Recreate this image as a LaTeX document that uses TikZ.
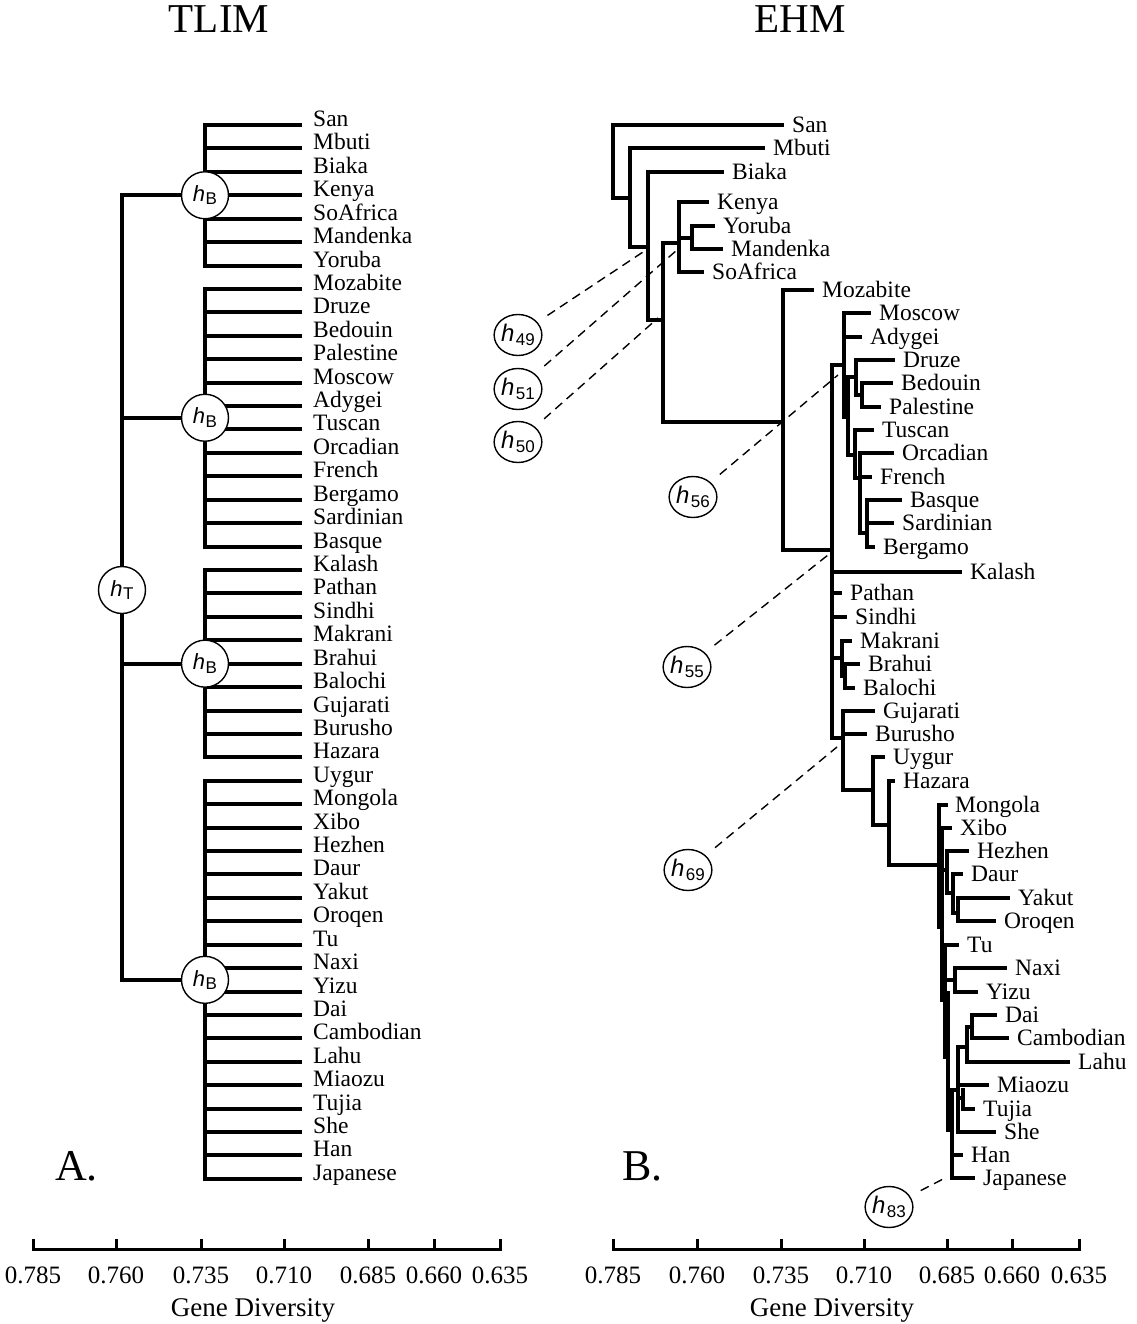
\documentclass[tikz,border=0pt]{standalone}
\usepackage{fontspec}
\usetikzlibrary{shapes.geometric}
\setmainfont{Liberation Serif}
\setsansfont{Liberation Sans}
\pgfdeclarelayer{lines}
\pgfsetlayers{lines,main}
% h-symbols inside the circles
\newcommand\hA[1]{{\fontsize{22}{22}\selectfont\sffamily\itshape h}\kern0.5pt\raisebox{-3.5pt}{\fontsize{17}{17}\selectfont\sffamily #1}}
\newcommand\hN[1]{{\fontsize{24}{24}\selectfont\sffamily\itshape h}\kern1.5pt\raisebox{-4.5pt}{\fontsize{17}{17}\selectfont\sffamily #1}}
\begin{document}
\begin{tikzpicture}[x=1pt,y=-1pt,
  tree/.style={line width=3.6pt,line cap=rect,line join=miter},
  treeA/.style={line width=4pt,line cap=rect,line join=miter},
  axisline/.style={line width=3pt,line cap=rect},
  alab/.style={font=\fontsize{23.5}{24}\selectfont,inner sep=0pt,anchor=base west},
  blab/.style={font=\fontsize{23.5}{24}\selectfont,inner sep=0pt,anchor=base west},
  hcirc/.style={circle,draw,line width=1.4pt,fill=white,minimum size=47pt,inner sep=0pt},
  ncirc/.style={ellipse,draw,line width=1.4pt,fill=white,minimum width=45pt,minimum height=41pt,inner sep=0pt},
  conn/.style={line width=1.4pt,dash pattern=on 9pt off 6pt,shorten <=12pt},
  title/.style={font=\fontsize{41}{41}\selectfont,inner sep=0pt,anchor=base},
  panel/.style={font=\fontsize{44}{44}\selectfont,inner sep=0pt,anchor=base west},
  ticklab/.style={font=\fontsize{25}{25}\selectfont,inner sep=0pt,anchor=base},
  axlab/.style={font=\fontsize{27}{27}\selectfont,inner sep=0pt,anchor=base}]
\useasboundingbox (0,0) rectangle (1136,1324);

% ---------------- titles and panel letters ----------------
\node[title] (tlim) at (219,33) {TLIM};
\node[title] (ehm) at (800,33) {EHM};
\node[panel] (pA) at (55,1180) {A.};
\node[panel] (pB) at (622,1180) {B.};

% ---------------- panel A: TLIM ----------------
\node[hcirc] (hT) at (122,590) {\hA{T}};
\node[hcirc] (hb1) at (205,{125+23.42*3}) {\hA{B}};
\node[hcirc] (hb2) at (205,{125+23.42*12.5}) {\hA{B}};
\node[hcirc] (hb3) at (205,{125+23.42*23}) {\hA{B}};
\node[hcirc] (hb4) at (205,{125+23.42*36.5}) {\hA{B}};

\begin{pgfonlayer}{lines}
  \foreach \k in {1,...,4} \draw[treeA] (hT.center) |- (hb\k.center);
  \foreach \ra/\rb in {0/6,7/18,19/27,28/45}
    \draw[treeA] (205,{125+23.42*\ra}) -- (205,{125+23.42*\rb});
  \foreach \lbl [count=\i from 0] in {San,Mbuti,Biaka,Kenya,SoAfrica,Mandenka,Yoruba,
      Mozabite,Druze,Bedouin,Palestine,Moscow,Adygei,Tuscan,Orcadian,French,Bergamo,Sardinian,Basque,
      Kalash,Pathan,Sindhi,Makrani,Brahui,Balochi,Gujarati,Burusho,Hazara,
      Uygur,Mongola,Xibo,Hezhen,Daur,Yakut,Oroqen,Tu,Naxi,Yizu,Dai,Cambodian,Lahu,Miaozu,Tujia,She,Han,Japanese}
  {
    \pgfmathsetmacro\yy{125+23.42*\i}
    \draw[treeA] (205,\yy) -- (300,\yy);
    \node[alab] (a\i) at (313,\yy+1.5) {\lbl};
  }
\end{pgfonlayer}

% ---------------- panel B: EHM ----------------
% African branches
\draw[tree] (782,125) -- (613,125) -- (613,198) -- (630,198);
\draw[tree] (763,148) -- (630,148) -- (630,247) -- (648,247);
\draw[tree] (722,172) -- (648,172) -- (648,320) -- (663,320);
\draw[tree] (679,243) -- (663,243) -- (663,422) -- (783,422);
\draw[tree] (707,202) -- (679,202) -- (679,272) -- (702,272);
\draw[tree] (679,238) -- (692,238);
\draw[tree] (713,226) -- (692,226) -- (692,249) -- (721,249);
% Eurasian backbone
\draw[tree] (812,290) -- (783,290) -- (783,550) -- (832,550);
\draw[tree] (844,365) -- (832,365) -- (832,738) -- (843,738);
\draw[tree] (832,572) -- (960,572);
\draw[tree] (832,593) -- (840,593);
\draw[tree] (832,617) -- (845,617);
\draw[tree] (832,658) -- (842,658);
% Europe and Middle East
\draw[tree] (869,313) -- (844,313) -- (844,417);
\draw[tree] (844,337) -- (860,337);
\draw[tree] (844,405) -- (848,405);
\draw[tree] (856,377) -- (848,377) -- (848,455) -- (855,455);
\draw[tree] (893,360) -- (856,360) -- (856,395) -- (862,395);
\draw[tree] (891,383) -- (862,383) -- (862,407) -- (879,407);
\draw[tree] (872,430) -- (855,430) -- (855,478) -- (860,478);
\draw[tree] (892,453) -- (860,453) -- (860,533) -- (867,533);
\draw[tree] (860,477) -- (870,477);
\draw[tree] (900,500) -- (867,500) -- (867,547) -- (873,547);
\draw[tree] (867,523) -- (892,523);
% Central and South Asia
\draw[tree] (850,641) -- (842,641) -- (842,676) -- (845,676);
\draw[tree] (858,664) -- (845,664) -- (845,688) -- (853,688);
\draw[tree] (873,711) -- (843,711) -- (843,790) -- (873,790);
\draw[tree] (843,734) -- (865,734);
\draw[tree] (883,757) -- (873,757) -- (873,825) -- (889,825);
\draw[tree] (893,781) -- (889,781) -- (889,865) -- (939,865);
% East Asia
\draw[tree] (946,805) -- (939,805) -- (939,927);
\draw[tree] (950,828) -- (942,828) -- (942,1000);
\draw[tree] (945,947) -- (945,1057);
\draw[tree] (948,993) -- (948,1130);
\draw[tree] (952,1090) -- (952,1178) -- (973,1178);
\draw[tree] (952,1155) -- (961,1155);
\draw[tree] (942,870) -- (947,870);
\draw[tree] (967,851) -- (947,851) -- (947,893) -- (953,893);
\draw[tree] (961,874) -- (953,874) -- (953,913) -- (958,913);
\draw[tree] (1008,898) -- (958,898) -- (958,921) -- (994,921);
\draw[tree] (942,945) -- (957,945);
\draw[tree] (945,980) -- (955,980);
\draw[tree] (1005,968) -- (955,968) -- (955,992) -- (976,992);
\draw[tree] (948,1090) -- (958,1090);
\draw[tree] (967,1047) -- (958,1047) -- (958,1132) -- (994,1132);
\draw[tree] (972,1027) -- (967,1027) -- (967,1062) -- (1068,1062);
\draw[tree] (995,1015) -- (972,1015) -- (972,1038) -- (1007,1038);
\draw[tree] (958,1085) -- (987,1085);
\draw[tree] (958,1098) -- (963,1098);
\draw[tree] (963,1090) -- (963,1109) -- (973,1109);

% leaf labels of panel B (x of text start, y of branch)
\foreach \nm/\xx/\yy/\lbl in {
  san/792/125/San, mbuti/773/148/Mbuti, biaka/732/172/Biaka, kenya/717/202/Kenya,
  yoruba/723/226/Yoruba, mandenka/731/249/Mandenka, soafrica/712/272/SoAfrica,
  mozabite/822/290/Mozabite, moscow/879/313/Moscow, adygei/870/337/Adygei,
  druze/903/360/Druze, bedouin/901/383/Bedouin, palestine/889/407/Palestine,
  tuscan/882/430/Tuscan, orcadian/902/453/Orcadian, french/880/477/French,
  basque/910/500/Basque, sardinian/902/523/Sardinian, bergamo/883/547/Bergamo,
  kalash/970/572/Kalash, pathan/850/593/Pathan, sindhi/855/617/Sindhi,
  makrani/860/641/Makrani, brahui/868/664/Brahui, balochi/863/688/Balochi,
  gujarati/883/711/Gujarati, burusho/875/734/Burusho, uygur/893/757/Uygur,
  hazara/903/781/Hazara, mongola/955/805/Mongola, xibo/960/828/Xibo,
  hezhen/977/851/Hezhen, daur/971/874/Daur, yakut/1018/898/Yakut,
  oroqen/1004/921/Oroqen, tu/967/945/Tu, naxi/1015/968/Naxi, yizu/986/992/Yizu,
  dai/1005/1015/Dai, cambodian/1017/1038/Cambodian, lahu/1078/1062/Lahu,
  miaozu/997/1085/Miaozu, tujia/983/1109/Tujia, she/1004/1132/She,
  han/971/1155/Han, japanese/983/1178/Japanese}
  \node[blab] (b-\nm) at (\xx,\yy+7.5) {\lbl};

% labelled nodes of panel B and their dashed pointers
\node[ncirc] (h49) at (518,335) {\hN{49}};
\node[ncirc] (h51) at (518,389) {\hN{51}};
\node[ncirc] (h50) at (518,442) {\hN{50}};
\node[ncirc] (h56) at (693,497) {\hN{56}};
\node[ncirc] (h55) at (687,667) {\hN{55}};
\node[ncirc] (h69) at (688,870) {\hN{69}};
\node[ncirc] (h83) at (889,1207) {\hN{83}};
\coordinate (t49) at (643,252);
\coordinate (t51) at (677,250);
\coordinate (t50) at (658,318);
\coordinate (t56) at (838,375);
\coordinate (t55) at (828,555);
\coordinate (t69) at (837,747);
\coordinate (t83) at (945,1178);
\foreach \k in {49,51,50,56,55,69,83} \draw[conn] (h\k) -- (t\k);

% ---------------- axes ----------------
\draw[axisline] (33,1249) -- (500,1249);
\foreach \xx/\lbl in {33/0.785,116/0.760,201/0.735,284/0.710,368/0.685,434/0.660,500/0.635}{
  \draw[axisline] (\xx,1249) -- (\xx,1240);
  \node[ticklab] at (\xx,1283) {\lbl};
}
\node[axlab] (gdA) at (253,1316) {Gene Diversity};
\draw[axisline] (613,1249) -- (1079,1249);
\foreach \xx/\lbl in {613/0.785,697/0.760,781/0.735,864/0.710,947/0.685,1012/0.660,1079/0.635}{
  \draw[axisline] (\xx,1249) -- (\xx,1240);
  \node[ticklab] at (\xx,1283) {\lbl};
}
\node[axlab] (gdB) at (832,1316) {Gene Diversity};
\end{tikzpicture}
\end{document}
